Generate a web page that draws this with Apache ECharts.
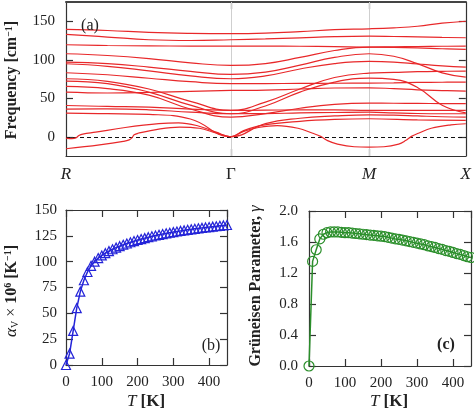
<!DOCTYPE html>
<html><head><meta charset="utf-8">
<script src="https://cdn.jsdelivr.net/npm/echarts@6/dist/echarts.min.js"></script>
<style>html,body{margin:0;padding:0;background:#fff}#c{width:474px;height:417px}</style>
</head><body><div id="c"></div>
<script>
// ---- (a) phonon dispersion: high-symmetry path ----
const pathLabels = ['R', 'Γ', 'M', 'X'];
const pathPos = [0, 167, 307, 405];
const freqTicks = [0, 50, 100, 150];
const bandX = [0, 42, 84, 126, 167, 202, 237, 272, 307, 332, 356, 381, 405];
const band01 = [139.4, 138, 135.5, 134.2, 133.8, 134.5, 136.5, 139, 140.2, 141.5, 143.5, 147.5, 150];
const band02 = [132.9, 129.5, 126, 125, 126, 127, 128.5, 130, 130.6, 130.2, 129.6, 129, 128.6];
const band03 = [119.5, 118.5, 118, 117.8, 117.7, 117.7, 117.5, 117, 116.4, 116.8, 117.2, 117.5, 117.7];
const band04 = [107.8, 105.5, 101.5, 96, 92.6, 95, 103, 112, 116.4, 116.2, 115.5, 114.3, 113.4];
const band05 = [96.9, 95, 90.5, 85, 80.9, 84, 93, 103, 107.8, 104.5, 95, 83, 77.4];
const band06 = [94.8, 91.5, 85.5, 79, 75.3, 79, 88, 95, 97.8, 97, 94.5, 92, 90.4];
const band07 = [83.1, 80.5, 76, 71.5, 68.9, 69, 69.3, 69.5, 69.6, 70, 70.5, 70.8, 70.9];
const band08 = [75.3, 72, 62, 46, 34.2, 45, 62, 77, 82.6, 83.5, 84.5, 85, 85.2];
const band09 = [72.2, 69, 58, 41, 29.9, 40, 58, 71, 76.1, 74.5, 64, 41, 31];
const band10 = [65.3, 62.5, 54, 36, 25.5, 30, 37, 42, 43.6, 43.5, 43.3, 43.1, 42.9];
const band11 = [57.9, 56.8, 57.5, 59, 60.1, 60.5, 62, 63.3, 63.6, 62.5, 61, 60, 59.2];
const band12 = [40.6, 39.4, 38.4, 36, 34.2, 34.5, 35, 35, 34.2, 34.2, 34.2, 34.2, 34.2];
const band13 = [36, 36.2, 35, 32, 29.9, 30, 31, 31.5, 31.9, 31, 30.2, 29.9, 29.9];
const band14 = [30.6, 30, 29, 23, 0, 17, 24, 27, 28.5, 28, 27, 26, 25.5];
const softAX = [0, 6, 10, 13, 17, 30, 60, 94, 114, 134, 152, 167, 180, 195, 214, 235, 250, 258, 265, 275, 292, 307, 322, 337, 344, 350, 357, 370, 390, 405];
const softAY = [-1.8, -2.5, -1.5, 1.5, 3.5, 6, 12, 17, 18, 14, 6, 0, 7, 12, 14.5, 11, 4.5, 0.5, -5, -9.5, -13, -13.5, -13, -9.5, -5, 0.5, 4.5, 11, 15.5, 16.9];
const softBX = [0, 34, 58, 64, 67, 69, 73, 94, 115, 135, 152, 167, 180, 200, 237, 272, 307, 356, 405];
const softBY = [-15.6, -10.5, -6, -4, -1, 2.5, 4.5, 10, 12.5, 11, 5, 0, 8, 15, 20, 22.5, 23.4, 22, 21.2];

// ---- (b) thermal expansion and (c) Grüneisen parameter ----
const temps = [0,10,20,30,40,50,60,70,80,90,100,110,120,130,140,150,160,170,180,190,200,210,220,230,240,250,260,270,280,290,300,310,320,330,340,350,360,370,380,390,400,410,420,430,440,450];
const alphaV = [0,11,33,55,71,82,90,96,100,103.5,106,108.2,110.2,112,113.6,115,116.4,117.6,118.8,119.9,121,121.9,122.8,123.7,124.5,125.3,126,126.7,127.4,128,128.6,129.2,129.8,130.3,130.8,131.3,131.8,132.3,132.7,133.1,133.5,133.9,134.3,134.7,135.1,135.5];
const gammaG = [0,1.35,1.50,1.64,1.70,1.72,1.73,1.73,1.73,1.725,1.72,1.72,1.715,1.71,1.705,1.70,1.695,1.69,1.685,1.68,1.675,1.67,1.66,1.65,1.64,1.635,1.625,1.615,1.605,1.595,1.585,1.575,1.565,1.55,1.54,1.53,1.515,1.505,1.49,1.48,1.465,1.45,1.44,1.425,1.41,1.40];

const serif = '"Liberation Serif", "DejaVu Serif", serif';
const ink = '#222';
const frameLine = {show: true, onZero: false, lineStyle: {color: '#333', width: 1.2}};
const red = '#e8282a';

function zipXY(xs, ys) { return xs.map((x, i) => [x, ys[i]]); }
const bandList = [band01, band02, band03, band04, band05, band06, band07, band08, band09, band10, band11, band12, band13, band14];

const series = [];
bandList.forEach((b, i) => {
  const s = {
    type: 'line', xAxisIndex: 0, yAxisIndex: 0, data: zipXY(bandX, b),
    smooth: 0.45, showSymbol: false, silent: true,
    lineStyle: {color: red, width: 1.2}, z: 3
  };
  if (i === 0) {
    s.markLine = {
      silent: true, symbol: ['none', 'none'], label: {show: false}, animation: false, z: 1,
      data: [
        {xAxis: pathPos[1], lineStyle: {color: '#cfcfcf', type: 'solid', width: 1}},
        {xAxis: pathPos[2], lineStyle: {color: '#cfcfcf', type: 'solid', width: 1}},
        {yAxis: 0, lineStyle: {color: '#111', type: [4, 3], width: 1.2}}
      ]
    };
  }
  series.push(s);
});
[[softAX, softAY], [softBX, softBY]].forEach(([xs, ys]) => {
  series.push({type: 'line', xAxisIndex: 0, yAxisIndex: 0, data: zipXY(xs, ys),
    smooth: 0.4, showSymbol: false, silent: true,
    lineStyle: {color: red, width: 1.2}, z: 3});
});
series.push({type: 'line', xAxisIndex: 2, yAxisIndex: 2, data: zipXY(temps, alphaV),
  symbol: 'triangle', symbolSize: 9, showAllSymbol: true,
  itemStyle: {color: 'rgba(0,0,0,0)', borderColor: '#2424d8', borderWidth: 1.2},
  lineStyle: {color: '#2424d8', width: 1.5}, z: 3});
series.push({type: 'line', xAxisIndex: 4, yAxisIndex: 4, data: zipXY(temps, gammaG),
  symbol: 'circle', symbolSize: 10, showAllSymbol: true,
  itemStyle: {color: 'rgba(0,0,0,0)', borderColor: '#2b8f2b', borderWidth: 1.2},
  lineStyle: {color: '#2b8f2b', width: 1.5}, z: 3});

const tickStyle = {color: '#333', width: 1.2};
function mkAxis(grid, pos, min, max, extra) {
  return Object.assign({
    gridIndex: grid, type: 'value', position: pos, min: min, max: max,
    axisLine: frameLine, splitLine: {show: false},
    axisTick: {show: true, inside: true, length: 7, lineStyle: tickStyle},
    axisLabel: {show: false}
  }, extra || {});
}
const numLabel = {show: true, color: ink, fontFamily: serif, fontSize: 15, margin: 10, showMaxLabel: false};

const xAxes = [
  mkAxis(0, 'bottom', 0, 405, {
    axisTick: {show: true, inside: true, length: 7, lineStyle: tickStyle, customValues: [pathPos[1], pathPos[2]]},
    axisLabel: {show: true, customValues: pathPos, margin: 10, showMaxLabel: true, showMinLabel: true,
      formatter: v => { const k = pathLabels[pathPos.indexOf(v)]; return k === 'Γ' ? '{n|Γ}' : '{i|' + k + '}'; },
      rich: {i: {fontFamily: serif, fontStyle: 'italic', fontSize: 17, color: ink},
             n: {fontFamily: serif, fontSize: 17, color: ink}}}
  }),
  mkAxis(0, 'top', 0, 405, {axisLine: {show: true, onZero: false, lineStyle: {color: '#444', width: 2}},
    axisTick: {show: true, inside: true, length: 7, lineStyle: tickStyle, customValues: [pathPos[1], pathPos[2]]}}),
  mkAxis(1, 'bottom', 0, 450, {interval: 100, axisLabel: numLabel}),
  mkAxis(1, 'top', 0, 450, {interval: 100}),
  mkAxis(2, 'bottom', 0, 450, {interval: 100, axisLabel: numLabel}),
  mkAxis(2, 'top', 0, 450, {interval: 100})
];
const yAxes = [
  mkAxis(0, 'left', -25, 175, {
    axisTick: {show: true, inside: true, length: 7, lineStyle: tickStyle, customValues: freqTicks},
    axisLabel: Object.assign({}, numLabel, {customValues: freqTicks, margin: 11, showMaxLabel: true, showMinLabel: true})
  }),
  mkAxis(0, 'right', -25, 175, {axisTick: {show: true, inside: true, length: 7, lineStyle: tickStyle, customValues: freqTicks}}),
  mkAxis(1, 'left', 0, 150, {interval: 25, axisLabel: Object.assign({}, numLabel, {showMaxLabel: true, margin: 9})}),
  mkAxis(1, 'right', 0, 150, {interval: 25}),
  mkAxis(2, 'left', 0, 2, {interval: 0.4, axisLabel: Object.assign({}, numLabel, {showMaxLabel: true, margin: 11, formatter: v => v.toFixed(1)})}),
  mkAxis(2, 'right', 0, 2, {interval: 0.4})
];

function txt(x, y, text, rich, rot, extra) {
  return {type: 'text', x: x, y: y, rotation: rot || 0, silent: true, z: 10,
    style: Object.assign({text: text, rich: rich, align: 'center', verticalAlign: 'middle',
      fontFamily: serif, fontSize: 16, fill: ink}, extra || {})};
}
const R = {
  b: {fontFamily: serif, fontWeight: 'bold', fontSize: 16, color: ink},
  bs: {fontFamily: serif, fontWeight: 'bold', fontSize: 10, color: ink, verticalAlign: 'top'},
  n: {fontFamily: serif, fontSize: 16, color: ink},
  i: {fontFamily: serif, fontStyle: 'italic', fontSize: 17, color: ink},
  sub: {fontFamily: serif, fontSize: 10, color: ink, verticalAlign: 'bottom'},
  bx: {fontFamily: serif, fontWeight: 'bold', fontSize: 17, color: ink}
};

const option = {
  backgroundColor: '#fff',
  animation: false,
  grid: [
    {left: 66, top: 2, width: 405, height: 154},
    {left: 66, top: 210, width: 161, height: 155},
    {left: 309, top: 211, width: 162, height: 155}
  ],
  xAxis: xAxes,
  yAxis: yAxes,
  series: series,
  graphic: [
    txt(12, 80, '{b|Frequency [cm}{bs|−1}{b|]}', R, Math.PI / 2),
    txt(12, 291, '{i|α}{sub|V}{n| × }{b|10}{bs|6}{b| [K}{bs|−1}{b|]}', R, Math.PI / 2),
    txt(256, 286, '{b|Grüneisen Parameter, }{i|γ}', R, Math.PI / 2),
    txt(146, 402, '{i|T}{bx| [K]}', R, 0),
    txt(389, 402, '{i|T}{bx| [K]}', R, 0),
    txt(90, 26, '(a)', null, 0, {fontSize: 16}),
    txt(211, 346, '(b)', null, 0, {fontSize: 16}),
    txt(446, 345, '(c)', null, 0, {fontSize: 16, fontWeight: 'bold'})
  ]
};
const chart = echarts.init(document.getElementById('c'));
chart.setOption(option);
</script></body></html>
